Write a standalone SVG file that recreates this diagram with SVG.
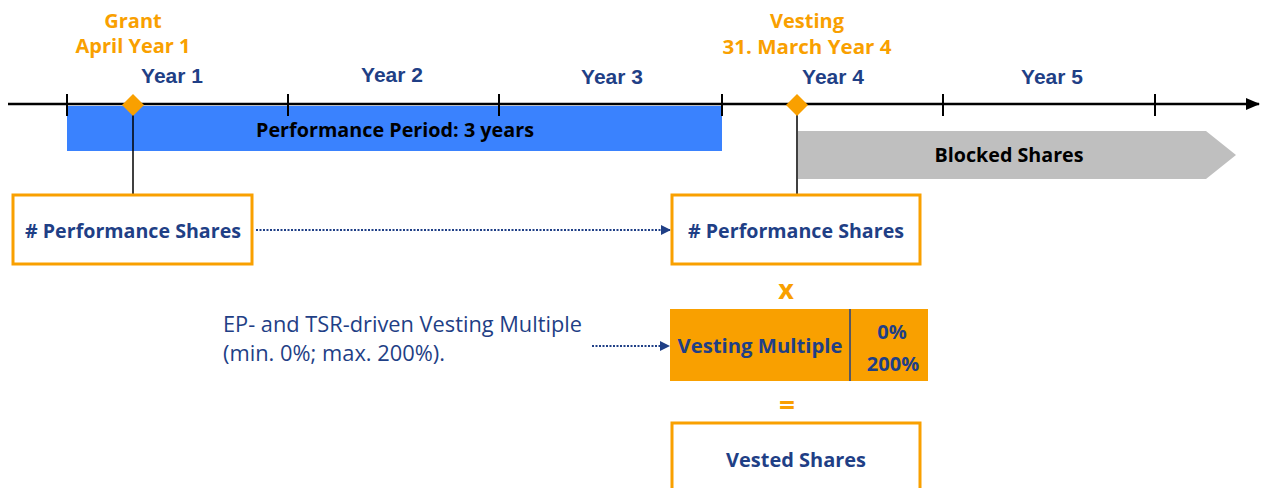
<svg xmlns="http://www.w3.org/2000/svg" width="1265" height="488" viewBox="0 0 1265 488">
<defs>
<style>
.t{font-family:"Open Sans","Noto Sans",sans-serif;font-weight:bold;text-anchor:middle}
.yr{font-family:"Liberation Sans",Arial,sans-serif;font-weight:bold;font-size:21px;fill:#1f3f86;text-anchor:middle}
.or{fill:#f9a000;font-size:20px}
.nv{fill:#1f3f86;font-size:20px}
.bk{fill:#000;font-size:20px}
.nt{fill:#1f3f86;font-family:"Open Sans","Noto Sans",sans-serif;font-size:21px}
.box{fill:#fff;stroke:#f9a000;stroke-width:3}
.tick{stroke:#000;stroke-width:2}
.dot{stroke:#1f3f86;stroke-width:2;stroke-dasharray:2 1.5;fill:none}
</style>
<marker id="ah" markerWidth="10" markerHeight="10" refX="9" refY="5" orient="auto" markerUnits="userSpaceOnUse">
<path d="M0,0 L10,5 L0,10 Z" fill="#1f3f86"/>
</marker>
<marker id="axis" markerWidth="14" markerHeight="12" refX="13" refY="6" orient="auto" markerUnits="userSpaceOnUse">
<path d="M0,0 L14,6 L0,12 Z" fill="#000"/>
</marker>
</defs>
<rect width="1265" height="488" fill="#fff"/>

<g id="performance-period">
<rect x="67" y="106" width="655" height="45" fill="#3a82fe"/>
<text class="t bk" x="395" y="137" textLength="278" lengthAdjust="spacingAndGlyphs">Performance Period: 3 years</text>
</g>

<g id="blocked-shares">
<path d="M798,131 H1206 L1236,155 L1206,179 H798 Z" fill="#bfbfbf"/>
<text class="t bk" x="1009" y="162" textLength="149" lengthAdjust="spacingAndGlyphs">Blocked Shares</text>
</g>

<g id="timeline">
<line x1="8" y1="104" x2="1259" y2="104" stroke="#000" stroke-width="2.5" marker-end="url(#axis)"/>
<line class="tick" x1="67" y1="94" x2="67" y2="116"/>
<line class="tick" x1="288" y1="94" x2="288" y2="116"/>
<line class="tick" x1="499" y1="94" x2="499" y2="116"/>
<line class="tick" x1="722" y1="94" x2="722" y2="116"/>
<line class="tick" x1="943" y1="94" x2="943" y2="116"/>
<line class="tick" x1="1155" y1="94" x2="1155" y2="116"/>
<text class="yr" x="172" y="83">Year 1</text>
<text class="yr" x="392" y="82">Year 2</text>
<text class="yr" x="612" y="84">Year 3</text>
<text class="yr" x="833" y="84">Year 4</text>
<text class="yr" x="1052" y="84">Year 5</text>
</g>

<g id="connectors">
<line x1="133" y1="110" x2="133" y2="195" stroke="#000" stroke-width="1.5"/>
<line x1="797" y1="110" x2="797" y2="195" stroke="#000" stroke-width="1.5"/>
<line class="dot" x1="256" y1="230" x2="670" y2="230" marker-end="url(#ah)"/>
<line class="dot" x1="592" y1="346" x2="669" y2="346" marker-end="url(#ah)"/>
</g>

<g id="grant">
<path d="M133,94 L144,105 L133,116 L122,105 Z" fill="#f9a000"/>
<text class="t or" x="133" y="28">Grant</text>
<text class="t or" x="133" y="53" textLength="115" lengthAdjust="spacingAndGlyphs">April Year 1</text>
</g>

<g id="vesting">
<path d="M797,94 L808,105 L797,116 L786,105 Z" fill="#f9a000"/>
<text class="t or" x="807" y="28">Vesting</text>
<text class="t or" x="807" y="54" textLength="169" lengthAdjust="spacingAndGlyphs">31. March Year 4</text>
</g>

<g id="perf-shares-grant">
<rect class="box" x="13" y="195" width="239" height="69"/>
<text class="t nv" x="133" y="238" textLength="216" lengthAdjust="spacingAndGlyphs">#&#160;Performance Shares</text>
</g>

<g id="perf-shares-vest">
<rect class="box" x="672" y="195" width="248" height="69"/>
<text class="t nv" x="796" y="238" textLength="216" lengthAdjust="spacingAndGlyphs">#&#160;Performance Shares</text>
</g>

<g id="times">
<text class="t" x="786" y="299" fill="#f9a000" font-size="27">x</text>
</g>

<g id="vesting-multiple">
<rect x="670" y="309" width="258" height="72" fill="#f9a000"/>
<line x1="850" y1="309" x2="850" y2="381" stroke="#1f3f86" stroke-width="1.5"/>
<text class="t nv" x="760" y="353" textLength="165" lengthAdjust="spacingAndGlyphs">Vesting Multiple</text>
<text class="t nv" x="892" y="339">0%</text>
<text class="t nv" x="893" y="371">200%</text>
</g>

<g id="multiple-note">
<text class="nt" x="223" y="332" textLength="359" lengthAdjust="spacingAndGlyphs">EP- and TSR-driven Vesting Multiple</text>
<text class="nt" x="223" y="361" textLength="222" lengthAdjust="spacingAndGlyphs">(min. 0%; max. 200%).</text>
</g>

<g id="equals">
<text class="t" x="787" y="415" fill="#f9a000" font-size="28">=</text>
</g>

<g id="vested-shares">
<rect class="box" x="672" y="423" width="248" height="80"/>
<text class="t nv" x="796" y="467" textLength="140" lengthAdjust="spacingAndGlyphs">Vested Shares</text>
</g>
</svg>
